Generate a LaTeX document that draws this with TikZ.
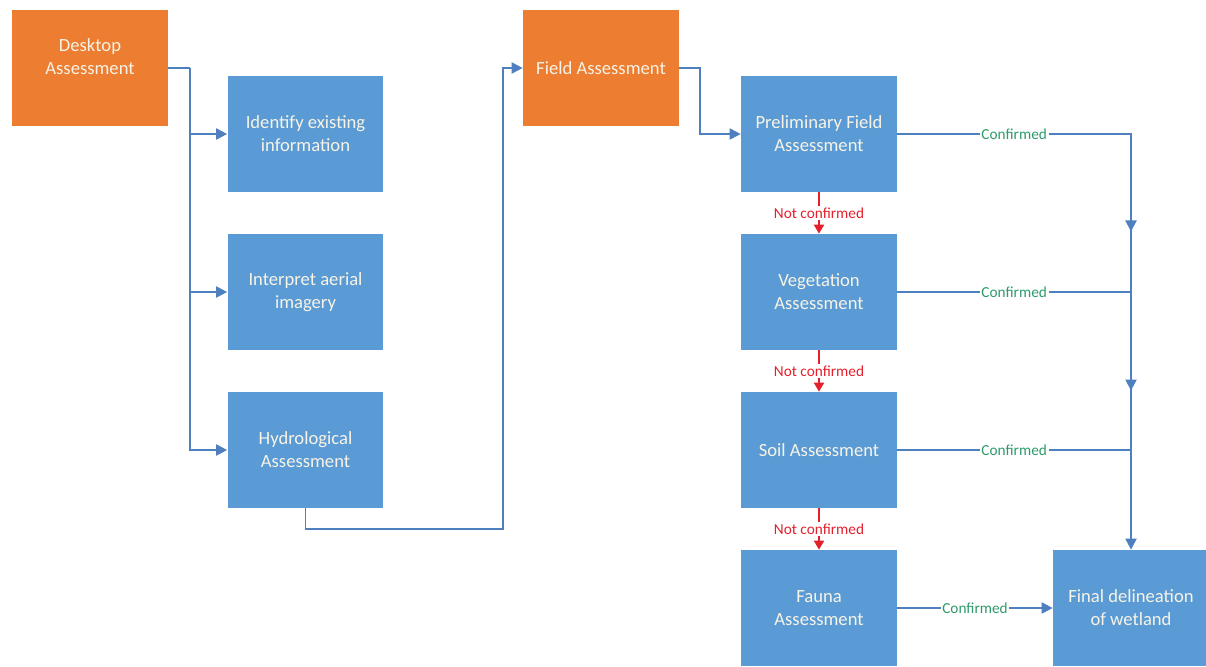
\documentclass[tikz,border=0pt]{standalone}
\usepackage{fontspec}
\setmainfont{Carlito}
\usetikzlibrary{arrows.meta, decorations.markings, calc, positioning}
\definecolor{deskorange}{HTML}{ED7D31}
\definecolor{stepblue}{HTML}{5B9BD5}
\definecolor{linkblue}{HTML}{4E7FBF}
\definecolor{noredred}{HTML}{E3202B}
\definecolor{okgreen}{HTML}{2E9A6A}
\definecolor{boxtext}{HTML}{F7F3E6}

\begin{document}
\begin{tikzpicture}[
  x=0.02cm, y=-0.02cm,
  block/.style={minimum width=3.12cm, minimum height=2.32cm, inner sep=2pt,
    align=center, text=boxtext, font=\fontsize{10.6}{13}\selectfont},
  orangebox/.style={block, fill=deskorange},
  bluebox/.style={block, fill=stepblue},
  link/.style={draw=linkblue, line width=1.1pt},
  arrow/.style={link, -{Triangle[length=2.2mm, width=2.2mm]}},
  nolink/.style={draw=noredred, line width=1.1pt, -{Triangle[length=1.8mm, width=2mm]}},
  nolabel/.style={fill=white, text=noredred, font=\fontsize{8.7}{9}\selectfont, inner sep=1pt},
  oklabel/.style={fill=white, text=okgreen, font=\fontsize{8.7}{9}\selectfont, inner sep=1pt},
  twomarks/.style={postaction={decorate}, decoration={markings,
    mark=at position 0.51 with {\arrow{Triangle[length=2.2mm, width=2.2mm]}},
    mark=at position 0.755 with {\arrow{Triangle[length=2.2mm, width=2.2mm]}}}}
]
  \useasboundingbox (0,0) rectangle (1206,666);

  % Desktop side
  \node[orangebox] (desk) at (90, 68) {Desktop\\Assessment\\\mbox{}};
  \node[bluebox] (ident) at (305.5, 134) {Identify existing\\information};
  \node[bluebox] (aerial) at (305.5, 292) {Interpret aerial\\imagery};
  \node[bluebox] (hydro) at (305.5, 450) {Hydrological\\Assessment};

  % Field side
  \node[orangebox] (field) at (601, 68) {Field Assessment};
  \node[bluebox] (prelim) at (819, 134) {Preliminary Field\\Assessment};
  \node[bluebox] (veg) at (819, 292) {Vegetation\\Assessment};
  \node[bluebox] (soil) at (819, 450) {Soil Assessment};
  \node[bluebox] (fauna) at (819, 608) {Fauna\\Assessment};
  \node[bluebox] (final) at (1131, 608) {Final delineation\\of wetland};

  % Arrows
  \coordinate (bus) at (190, 68);
  \draw[link] (desk.east) -- (bus);
  \draw[arrow] (bus) |- (ident.west);
  \draw[arrow] (bus) |- (aerial.west);
  \draw[arrow] (bus) |- (hydro.west);
  \draw[arrow] (hydro.south) -- ++(0, 21) -| ($(field.west)+(-20, 0)$) -- (field.west);
  \draw[arrow] (field.east) -- ++(21, 0) |- (prelim.west);

  \draw[nolink] (prelim) -- node[nolabel] {Not confirmed} (veg);
  \draw[nolink] (veg) -- node[nolabel] {Not confirmed} (soil);
  \draw[nolink] (soil) -- node[nolabel] {Not confirmed} (fauna);

  \draw[arrow, twomarks] (prelim.east) -| (final.north);
  \path (prelim.east) -- node[oklabel] {Confirmed} (prelim.east -| final.north);
  \draw[link] (veg.east) -- node[oklabel] {Confirmed} (veg.east -| final.north);
  \draw[link] (soil.east) -- node[oklabel] {Confirmed} (soil.east -| final.north);
  \draw[arrow] (fauna.east) -- node[oklabel] {Confirmed} (final.west);
\end{tikzpicture}
\end{document}
